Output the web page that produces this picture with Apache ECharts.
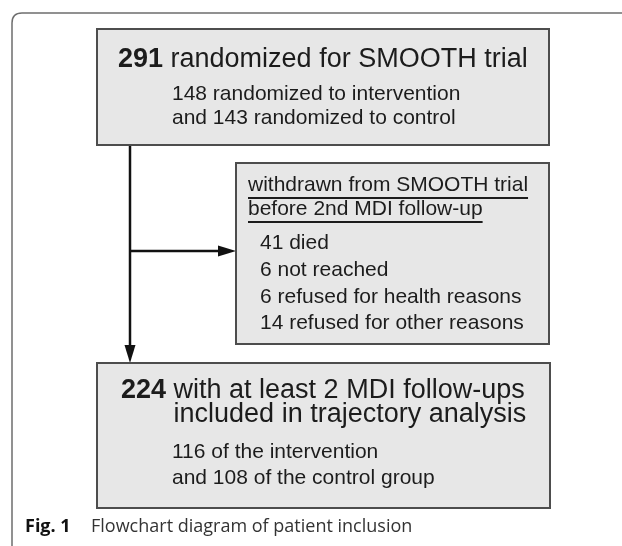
<!DOCTYPE html>
<html>
<head>
<meta charset="utf-8">
<script src="https://cdn.jsdelivr.net/npm/echarts@6/dist/echarts.min.js"></script>
<style>
html,body{margin:0;padding:0;background:#fff;}
#chart{width:622px;height:546px;}
</style>
</head>
<body>
<div id="chart"></div>
<script>
// ---- data (content of the flowchart) ----
const randomizedTotal = 291;
const randomizedTitle = 'randomized for SMOOTH trial';
const randomizedSplit = [148, 143];
const withdrawalHeader = ['withdrawn from SMOOTH trial', 'before 2nd MDI follow-up'];
const withdrawalReasons = ['died', 'not reached', 'refused for health reasons', 'refused for other reasons'];
const withdrawalCounts = [41, 6, 6, 14];
const includedTotal = 224;
const includedTitle = ['with at least 2 MDI follow-ups', 'included in trajectory analysis'];
const includedSplit = [116, 108];
const captionLabel = 'Fig. 1';
const captionText = 'Flowchart diagram of patient inclusion';

// ---- layout (positions in canvas units, mapped through hidden axes) ----
const FONT = '"Liberation Sans", Arial, Helvetica, sans-serif';
const CAPFONT = '"Open Sans", "Noto Sans", sans-serif';
const layout = {
  box1: [97, 29, 549, 145],
  box2: [236, 163, 549, 344],
  box3: [97, 363, 550, 508]
};

const measureCtx = document.createElement('canvas').getContext('2d');
function textWidth(str, font) { measureCtx.font = font; return measureCtx.measureText(str).width; }

const chart = echarts.init(document.getElementById('chart'), null, {renderer: 'canvas'});

function renderItem(params, api) {
  const P = (x, y) => api.coord([x, y]);
  const children = [];
  const txtColor = '#1c1c1c';
  function box(b) {
    const a = P(b[0], b[1]), c = P(b[2], b[3]);
    children.push({type: 'rect', shape: {x: a[0], y: a[1], width: c[0] - a[0], height: c[1] - a[1]},
      style: {fill: '#e7e7e7', stroke: '#4d4d4d', lineWidth: 2}});
  }
  function text(str, x, baseline, size, weight, family, color) {
    const p = P(x, baseline);
    children.push({type: 'text', x: p[0], y: p[1] - 0.35 * size,
      style: {text: str, fontSize: size, fontWeight: weight || 'normal', fontFamily: family || FONT,
        fill: color || txtColor, align: 'left', verticalAlign: 'middle'}});
  }
  function line(pts, w, color) {
    children.push({type: 'polyline', shape: {points: pts.map(q => P(q[0], q[1]))},
      style: {stroke: color, lineWidth: w, fill: null}});
  }
  function arrowHead(tip, dir) {
    const L = 18, H = 5.5;
    let pts;
    if (dir === 'down') pts = [[tip[0], tip[1]], [tip[0] - H, tip[1] - L], [tip[0] + H, tip[1] - L]];
    else pts = [[tip[0], tip[1]], [tip[0] - L, tip[1] - H], [tip[0] - L, tip[1] + H]];
    children.push({type: 'polygon', shape: {points: pts.map(q => P(q[0], q[1]))}, style: {fill: '#111'}});
  }

  // outer frame
  const f0 = P(12, 546), f1 = P(12, 23), f2 = P(22, 13), f3 = P(622, 13);
  children.push({type: 'path', shape: {pathData: `M${f0[0]} ${f0[1]} L${f1[0]} ${f1[1]} Q${f1[0]} ${f2[1]} ${f2[0]} ${f2[1]} L${f3[0]} ${f3[1]}`},
    style: {stroke: '#6e6e6e', lineWidth: 1.5, fill: null}});

  // connectors
  line([[130, 145], [130, 348]], 2.5, '#111');
  arrowHead([130, 363], 'down');
  line([[130, 251], [222, 251]], 2.5, '#111');
  arrowHead([236, 251], 'right');

  // boxes
  box(layout.box1); box(layout.box2); box(layout.box3);

  // box 1 text
  const big = 27, small = 21;
  const n1 = String(randomizedTotal) + ' ';
  text(String(randomizedTotal), 118, 69, big, 'bold');
  text(randomizedTitle, 118 + textWidth(n1, `bold ${big}px ${FONT}`), 69, big);
  text(`${randomizedSplit[0]} randomized to intervention`, 172, 102, small);
  text(`and ${randomizedSplit[1]} randomized to control`, 172, 126, small);

  // box 2 text
  const hdrBase = [193, 217];
  withdrawalHeader.forEach((h, i) => {
    text(h, 248, hdrBase[i], small);
    const w = textWidth(h, `${small}px ${FONT}`);
    line([[248, hdrBase[i] + 5], [248 + w, hdrBase[i] + 5]], 1.8, '#1c1c1c');
  });
  const reasonBase = [251, 278, 304.5, 331];
  withdrawalReasons.forEach((r, i) => text(`${withdrawalCounts[i]} ${r}`, 260, reasonBase[i], small));

  // box 3 text
  const n3 = String(includedTotal) + ' ';
  text(String(includedTotal), 121, 400, big, 'bold');
  const off3 = 121 + textWidth(n3, `bold ${big}px ${FONT}`);
  text(includedTitle[0], off3, 400, big);
  text(includedTitle[1], off3, 424, big);
  text(`${includedSplit[0]} of the intervention`, 172, 460, small);
  text(`and ${includedSplit[1]} of the control group`, 172, 486, small);

  // caption
  const cap = 18;
  text(captionLabel, 25, 533, cap, 'bold', CAPFONT, '#111');
  text(captionText, 91, 533, cap, 'normal', CAPFONT, '#333');

  return {type: 'group', children};
}

chart.setOption({
  animation: false,
  grid: {left: 0, right: 0, top: 0, bottom: 0},
  xAxis: {type: 'value', min: 0, max: 622, show: false},
  yAxis: {type: 'value', min: 0, max: 546, inverse: true, show: false},
  series: [{type: 'custom', renderItem, data: [[0, 0]], clip: false, silent: true}]
});
</script>
</body>
</html>
